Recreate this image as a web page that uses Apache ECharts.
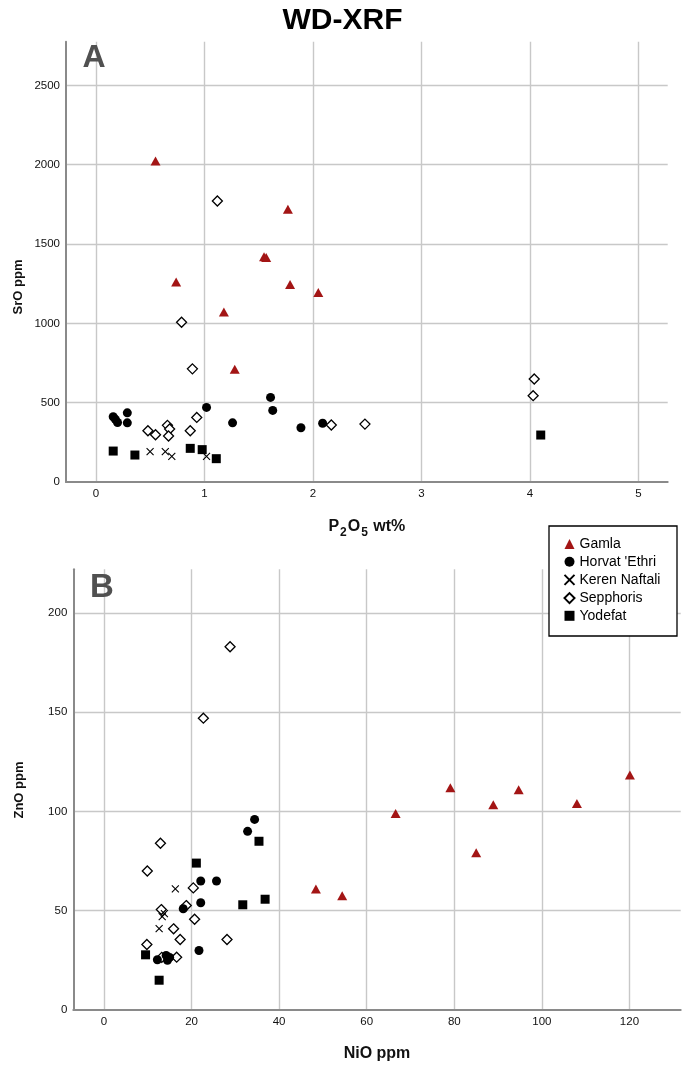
<!DOCTYPE html>
<html><head><meta charset="utf-8">
<script src="https://cdn.jsdelivr.net/npm/echarts@6/dist/echarts.min.js"></script>
<style>html,body{margin:0;padding:0;background:#fff}#c{width:685px;height:1067px}</style>
</head><body><div id="c"></div>
<script>
// ---- data ----
const seriesNames = ['Gamla', "Horvat 'Ethri", 'Keren Naftali', 'Sepphoris', 'Yodefat'];

// Panel A: P2O5 wt% (x) vs SrO ppm (y)
const gamlaA = [[0.55,2023],[1.77,1719],[1.55,1420],[1.57,1415],[0.74,1261],[1.79,1245],[2.05,1194],[1.18,1072],[1.28,711]];
const horvatA = [[0.16,411],[0.18,395],[0.20,375],[0.29,436],[0.29,373],[1.02,470],[1.26,373],[1.61,533],[1.63,451],[1.89,342],[2.09,370]];
const kerenA = [[0.50,191],[0.64,191],[0.70,162],[1.02,162]];
const sepphorisA = [[1.12,1771],[0.79,1007],[0.89,713],[0.93,407],[0.66,357],[0.68,334],[0.67,290],[0.48,323],[0.55,298],[0.87,323],[2.17,359],[2.48,365],[4.04,649],[4.03,544]];
const yodefatA = [[0.16,195],[0.36,170],[0.87,212],[0.98,204],[1.11,147],[4.10,296]];

// Panel B: NiO ppm (x) vs ZnO ppm (y)
const gamlaB = [[48.4,61],[54.4,57.6],[66.6,99],[79.1,112],[85.0,79.2],[88.9,103.4],[94.7,111],[108.0,104],[120.1,118.4]];
const horvatB = [[34.4,96],[32.8,90],[22.1,65],[25.7,65],[22.1,54],[18.1,51],[21.7,30],[12.2,25.3],[14.2,27.5],[14.5,25],[15.0,26.5]];
const kerenB = [[16.3,61],[13.3,47],[13.8,48.5],[12.6,41]];
const sepphorisB = [[28.8,183],[22.7,147],[12.9,84],[9.9,70],[20.4,61.5],[18.8,52.6],[13.1,50.6],[20.7,45.7],[15.9,40.9],[17.4,35.5],[28.1,35.5],[9.8,33],[16.6,26.6],[13.2,26.5]];
const yodefatB = [[35.4,85],[21.1,74],[31.7,53],[36.8,55.8],[9.5,27.8],[12.6,15]];

// axis extents (as in the original plot frame)
const xRangeA = [-0.275, 5.27];
const yRangeA = [0, 2775];
const xRangeB = [-7, 131.7];
const yRangeB = [0, 222];

// ---- styles ----
const FONT = '"Liberation Sans", Arial, sans-serif';
const GAMLA_RED = '#a31515';
const styles = {
  'Gamla': {symbol:'triangle', symbolSize:[10,9], itemStyle:{color:GAMLA_RED, opacity:1}},
  "Horvat 'Ethri": {symbol:'circle', symbolSize:9, itemStyle:{color:'#000', opacity:1}},
  'Keren Naftali': {symbol:'path://M0,0L10,10M10,0L0,10', symbolSize:7, itemStyle:{color:'none', borderColor:'#000', borderWidth:1.1, opacity:1}},
  'Sepphoris': {symbol:'diamond', symbolSize:10, itemStyle:{color:'#fff', borderColor:'#000', borderWidth:1.3, opacity:1}},
  'Yodefat': {symbol:'rect', symbolSize:9, itemStyle:{color:'#000', opacity:1}}
};
const dataA = {'Gamla':gamlaA, "Horvat 'Ethri":horvatA, 'Keren Naftali':kerenA, 'Sepphoris':sepphorisA, 'Yodefat':yodefatA};
const dataB = {'Gamla':gamlaB, "Horvat 'Ethri":horvatB, 'Keren Naftali':kerenB, 'Sepphoris':sepphorisB, 'Yodefat':yodefatB};
const drawOrder = ['Sepphoris', 'Keren Naftali', 'Yodefat', "Horvat 'Ethri", 'Gamla'];

const series = [];
[[dataA,0],[dataB,1]].forEach(([d, idx]) => {
  drawOrder.forEach(name => {
    const s = styles[name];
    series.push(Object.assign({
      type:'scatter', name, xAxisIndex:idx, yAxisIndex:idx, data:d[name],
      emphasis:{disabled:true}, z: 3
    }, JSON.parse(JSON.stringify(s))));
  });
});

const axisLineStyle = {color:'#8a8a8a', width:2};
const gridLine = {show:true, showMinLine:false, showMaxLine:false, lineStyle:{color:'#c8c8c8', width:1.4}};
const tickLabel = {fontSize:11.5, color:'#111', fontFamily:FONT, margin:6, formatter: v => String(v)};

function xAxis(gridIndex, range, name, gap, splitNumber) {
  return {
    type:'value', gridIndex, min:range[0], max:range[1], splitNumber,
    axisLine:{show:true, onZero:false, lineStyle:axisLineStyle},
    axisTick:{show:false},
    axisLabel:Object.assign({showMinLabel:false, showMaxLabel:false}, tickLabel),
    splitLine:gridLine,
    name, nameLocation:'middle', nameGap:gap,
    nameTextStyle:{fontSize:16, fontWeight:'bold', color:'#111', fontFamily:FONT,
      rich:{
        b:{fontSize:16, fontWeight:'bold', color:'#111', fontFamily:FONT, verticalAlign:'bottom', padding:[0,0,4,0]},
        s:{fontSize:12, fontWeight:'bold', color:'#111', fontFamily:FONT, verticalAlign:'bottom', padding:[0,1,0,1]}
      }}
  };
}
function yAxis(gridIndex, range) {
  return {
    type:'value', gridIndex, min:range[0], max:range[1], splitNumber:5,
    axisLine:{show:true, onZero:false, lineStyle:axisLineStyle},
    axisTick:{show:false},
    axisLabel:Object.assign({showMinLabel:true, showMaxLabel:false}, tickLabel),
    splitLine:gridLine
  };
}

const option = {
  animation:false,
  backgroundColor:'#fff',
  title:{text:'WD-XRF', left:'center', top:1,
    textStyle:{fontSize:30, fontWeight:'bold', color:'#000', fontFamily:FONT}},
  grid:[
    {left:66, top:41.7, width:601.7, height:440.3},
    {left:73.3, top:569.3, width:607.4, height:440.7}
  ],
  xAxis:[
    xAxis(0, xRangeA, '{b|P}{s|2}{b|O}{s|5}{b| wt%}', 37, 5),
    xAxis(1, xRangeB, '{b|NiO ppm}', 36, 7)
  ],
  yAxis:[ yAxis(0, yRangeA), yAxis(1, yRangeB) ],
  legend:{
    data:seriesNames, orient:'vertical', left:549, top:532,
    itemWidth:10, itemHeight:10, itemGap:3.7,
    padding:[5,10,5,13], selectedMode:false, z:20,
    textStyle:{fontSize:14, color:'#000', fontFamily:FONT}
  },
  graphic:[
    {type:'rect', z:15, shape:{x:549, y:526, width:128, height:110},
      style:{fill:'#fff', stroke:'#000', lineWidth:1.3}},
    {type:'text', z:15, x:94, y:58.5, style:{text:'A', fontSize:32, fontWeight:'bold', fontFamily:FONT, fill:'#505050', align:'center', verticalAlign:'middle'}},
    {type:'text', z:15, x:102, y:587.5, style:{text:'B', fontSize:33, fontWeight:'bold', fontFamily:FONT, fill:'#505050', align:'center', verticalAlign:'middle'}},
    {type:'text', z:15, x:18, y:287, rotation:Math.PI/2, style:{text:'SrO ppm', fontSize:13, fontWeight:'bold', fontFamily:FONT, fill:'#111', align:'center', verticalAlign:'middle'}},
    {type:'text', z:15, x:19, y:790, rotation:Math.PI/2, style:{text:'ZnO ppm', fontSize:13, fontWeight:'bold', fontFamily:FONT, fill:'#111', align:'center', verticalAlign:'middle'}}
  ],
  series
};
const chart = echarts.init(document.getElementById('c'), null, {renderer:'canvas'});
chart.setOption(option);
</script>
</body></html>
